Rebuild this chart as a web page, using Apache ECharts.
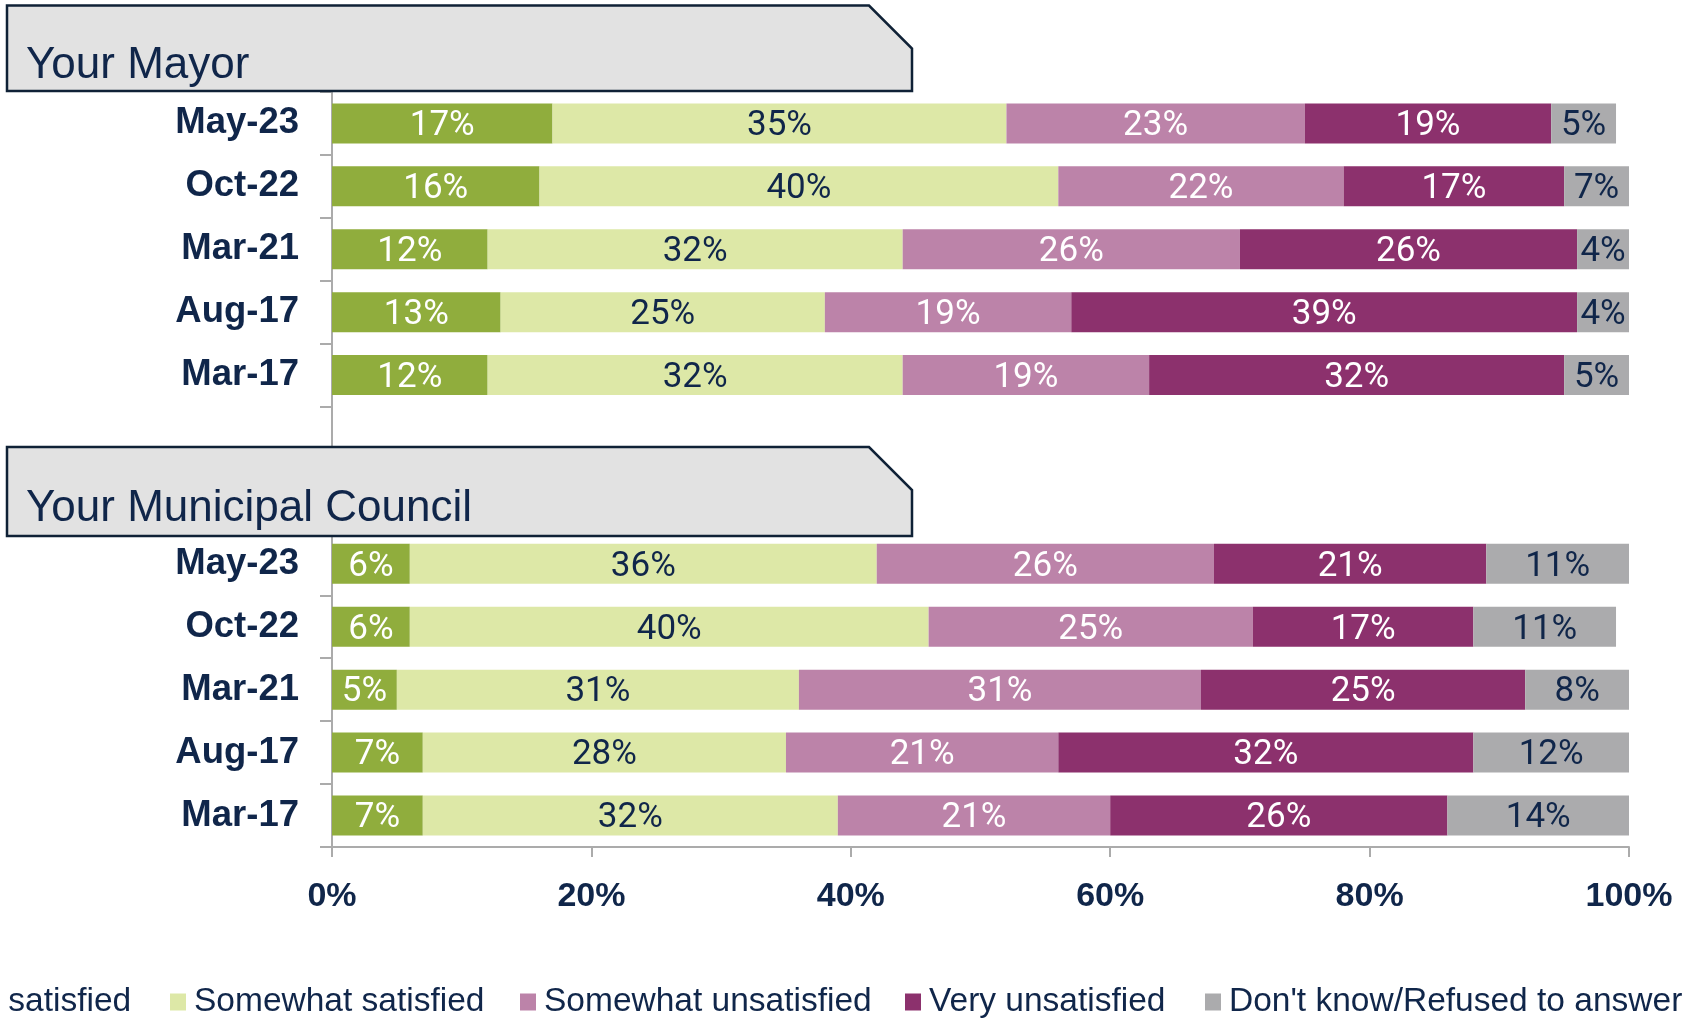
<!DOCTYPE html>
<html>
<head>
<meta charset="utf-8">
<script src="https://cdn.jsdelivr.net/npm/echarts@6/dist/echarts.min.js"></script>
<style>
html,body{margin:0;padding:0;background:#fff;}
#chart{width:1700px;height:1018px;}
</style>
</head>
<body>
<div id="chart"></div>
<script>
// ---- data ----
const groupTitles = ['Your Mayor', 'Your Municipal Council'];
const periods = ['May-23', 'Oct-22', 'Mar-21', 'Aug-17', 'Mar-17'];
const seriesNames = ['Very satisfied', 'Somewhat satisfied', 'Somewhat unsatisfied', 'Very unsatisfied', "Don't know/Refused to answer"];

const mayorVerySat   = [17, 16, 12, 13, 12];
const mayorSomeSat   = [35, 40, 32, 25, 32];
const mayorSomeUns   = [23, 22, 26, 19, 19];
const mayorVeryUns   = [19, 17, 26, 39, 32];
const mayorDontKnow  = [5, 7, 4, 4, 5];

const councilVerySat  = [6, 6, 5, 7, 7];
const councilSomeSat  = [36, 40, 31, 28, 32];
const councilSomeUns  = [26, 25, 31, 21, 21];
const councilVeryUns  = [21, 17, 25, 32, 26];
const councilDontKnow = [11, 11, 8, 12, 14];

const xTicks = [0, 20, 40, 60, 80, 100];

// ---- styles ----
const colors = ['#90ad3d', '#dde8a7', '#bc83a9', '#8c316d', '#ababad'];
const labelColors = ['#ffffff', '#10264a', '#ffffff', '#ffffff', '#10264a'];
const navy = '#10264a';
const axisGrey = '#ababab';

// categories: header row, 5 periods, blank, header row, 5 periods (top to bottom)
const categories = ['H1'].concat(periods.map(p => 'A|' + p), ['B0', 'H2'], periods.map(p => 'C|' + p));

function buildRow(mayorArr, councilArr) {
  return ['-'].concat(mayorArr, ['-', '-'], councilArr);
}
const rows = [
  buildRow(mayorVerySat, councilVerySat),
  buildRow(mayorSomeSat, councilSomeSat),
  buildRow(mayorSomeUns, councilSomeUns),
  buildRow(mayorVeryUns, councilVeryUns),
  buildRow(mayorDontKnow, councilDontKnow)
];

const series = seriesNames.map((name, i) => ({
  name: name,
  type: 'bar',
  stack: 'total',
  barWidth: 40,
  clip: true,
  data: rows[i],
  itemStyle: { color: colors[i] },
  label: {
    show: true,
    position: 'inside',
    offset: [0, 3],
    formatter: p => p.value + '%',
    color: labelColors[i],
    fontFamily: 'Roboto, "Liberation Sans", sans-serif',
    fontSize: 35
  },
  emphasis: { disabled: true }
}));

const legendLefts = [-92, 170, 520, 905, 1205];
const legends = seriesNames.map((name, i) => ({
  data: [name],
  left: legendLefts[i],
  top: 985,
  padding: 0,
  itemWidth: 16,
  itemHeight: 17,
  icon: 'rect',
  selectedMode: false,
  textStyle: {
    fontFamily: '"Liberation Sans", sans-serif',
    fontSize: 33.5,
    lineHeight: 34,
    color: navy,
    padding: [0, 0, 0, 3]
  }
}));

function headerShape(top, bottom, title, textY) {
  return [
    {
      type: 'polygon',
      z: 100,
      shape: { points: [[7, top], [869, top], [912, top + 43], [912, bottom], [7, bottom]] },
      style: { fill: '#e2e2e2', stroke: '#0f2136', lineWidth: 2.5 }
    },
    {
      type: 'text',
      z: 101,
      x: 26,
      y: textY,
      style: {
        text: title,
        font: '44px "Liberation Sans", sans-serif',
        fill: navy,
        textAlign: 'left',
        textVerticalAlign: 'middle'
      }
    }
  ];
}

const chart = echarts.init(document.getElementById('chart'), null, { renderer: 'canvas' });
chart.setOption({
  animation: false,
  backgroundColor: '#ffffff',
  grid: { left: 332, right: 71, top: 29, bottom: 171, containLabel: false },
  legend: legends,
  xAxis: {
    type: 'value',
    min: 0,
    max: 100,
    interval: 20,
    axisLine: { show: true, lineStyle: { color: axisGrey, width: 2 } },
    axisTick: { show: true, length: 10, lineStyle: { color: axisGrey, width: 2 } },
    splitLine: { show: false },
    axisLabel: {
      margin: 33,
      formatter: v => (xTicks.indexOf(v) >= 0 ? v + '%' : ''),
      color: navy,
      fontWeight: 'bold',
      fontSize: 34,
      fontFamily: '"Liberation Sans", sans-serif'
    }
  },
  yAxis: {
    type: 'category',
    inverse: true,
    data: categories,
    axisLine: { show: true, lineStyle: { color: axisGrey, width: 2 } },
    axisTick: { show: true, length: 12, interval: 0, lineStyle: { color: axisGrey, width: 2 } },
    axisLabel: {
      interval: 0,
      margin: 33,
      padding: [8, 0, 0, 0],
      formatter: v => (v.indexOf('|') >= 0 ? v.split('|')[1] : ''),
      color: navy,
      fontWeight: 'bold',
      fontSize: 36.5,
      fontFamily: '"Liberation Sans", sans-serif'
    }
  },
  graphic: headerShape(5.5, 91, groupTitles[0], 65.5).concat(headerShape(447, 536, groupTitles[1], 508.5)),
  series: series
});
</script>
</body>
</html>
